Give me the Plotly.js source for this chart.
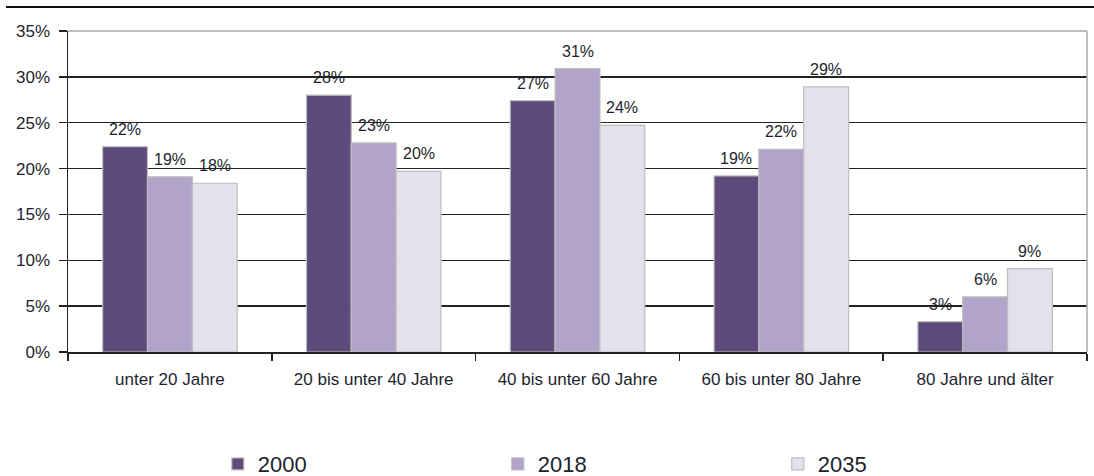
<!DOCTYPE html>
<html>
<head>
<meta charset="utf-8">
<script src="https://cdn.plot.ly/plotly-3.0.1.min.js"></script>
<style>html,body{margin:0;padding:0;background:#fff;}#chart{width:1094px;height:476px;}</style>
</head>
<body>
<div id="chart"></div>
<script>
const categories = ["unter 20 Jahre", "20 bis unter 40 Jahre", "40 bis unter 60 Jahre", "60 bis unter 80 Jahre", "80 Jahre und älter"];
const seriesNames = ["2000", "2018", "2035"];
const values2000 = [22.4, 28.0, 27.4, 19.2, 3.3];
const values2018 = [19.1, 22.8, 30.9, 22.1, 6.0];
const values2035 = [18.4, 19.7, 24.7, 28.9, 9.1];
const labels2000 = ["22%", "28%", "27%", "19%", "3%"];
const labels2018 = ["19%", "23%", "31%", "22%", "6%"];
const labels2035 = ["18%", "20%", "24%", "29%", "9%"];
const yTickVals = [0, 5, 10, 15, 20, 25, 30, 35];
const yTickText = ["0%", "5%", "10%", "15%", "20%", "25%", "30%", "35%"];

const FONT = '"Liberation Sans", Arial, sans-serif';
const TXT = "#1c1f2e";
const colors = ["#5f4b7b", "#b1a3c9", "#e4e0ec"];
const allVals = [values2000, values2018, values2035];
const allLabels = [labels2000, labels2018, labels2035];
const BARGAP = 0.34;
const barW = (1 - BARGAP) / 3;

const traces = seriesNames.map((n, i) => ({
  type: "bar",
  name: n,
  x: categories,
  y: allVals[i],
  marker: {color: colors[i], line: {color: "#bdbdbd", width: 1.2}},
  hoverinfo: "skip"
}));

const annotations = [];
allVals.forEach((vals, i) => {
  vals.forEach((v, j) => {
    annotations.push({
      x: j + (i - 1) * barW, y: v, xref: "x", yref: "y",
      text: allLabels[i][j], showarrow: false,
      xanchor: "center", yanchor: "bottom", yshift: 7,
      font: {family: FONT, size: 16, color: TXT}
    });
  });
});

const layout = {
  width: 1094, height: 476,
  margin: {l: 68, r: 7, t: 31, b: 124},
  paper_bgcolor: "#fff", plot_bgcolor: "#fff",
  barmode: "group", bargap: BARGAP, bargroupgap: 0,
  font: {family: FONT, color: TXT},
  showlegend: true,
  legend: {orientation: "h", x: 0.147, xanchor: "left", yref: "container", y: 0.025, yanchor: "middle",
           entrywidth: 235, entrywidthmode: "pixels", font: {family: FONT, size: 22, color: TXT},
           itemclick: false, traceorder: "normal"},
  annotations: annotations,
  xaxis: {type: "category", tickson: "boundaries", ticks: "outside", ticklen: 7, tickwidth: 1.5, tickcolor: "#222",
          showline: true, linecolor: "#222", linewidth: 1.5, showgrid: false, ticklabelstandoff: 11,
          tickfont: {family: FONT, size: 17, color: TXT}, fixedrange: true},
  yaxis: {range: [0, 35], tickvals: yTickVals, ticktext: yTickText, ticks: "outside", ticklen: 8, tickwidth: 1.5,
          tickcolor: "#222", showline: true, linecolor: "#222", linewidth: 1.5, ticklabelstandoff: 5,
          showgrid: true, gridcolor: "#222", gridwidth: 1.3, zeroline: false,
          tickfont: {family: FONT, size: 17, color: TXT}, fixedrange: true},
  shapes: [
    {type: "line", xref: "paper", yref: "paper", x0: -0.0608, x1: 1.007, y0: 1.0748, y1: 1.0748,
     line: {color: "#111", width: 2}},
    {type: "line", xref: "paper", yref: "paper", x0: 0, x1: 1, y0: 1, y1: 1, line: {color: "#a8a8a8", width: 1.5}, layer: "above"},
    {type: "line", xref: "paper", yref: "paper", x0: 1, x1: 1, y0: 0, y1: 1, line: {color: "#a8a8a8", width: 1.5}, layer: "above"}
  ]
};

Plotly.newPlot("chart", traces, layout, {displayModeBar: false, staticPlot: true});
</script>
</body>
</html>
